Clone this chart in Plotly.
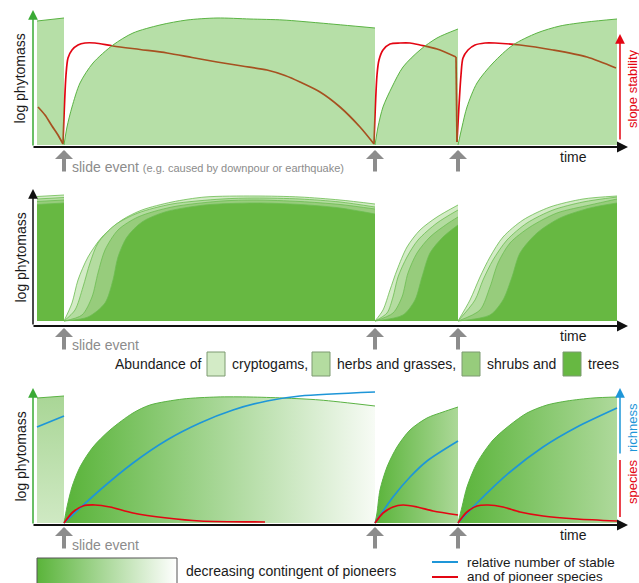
import plotly.graph_objects as go

W, H = 639, 583
FONT = "Liberation Sans, Arial, sans-serif"

# ---------------- data ----------------
slide_times = [64, 375, 458]

# Panel 1: log phytomass (green) and slope stability (red)
p1_green_t = [
    [37, 50, 64],
    [64, 67, 72, 80, 93, 113, 133, 160, 187, 217, 250, 283, 320, 375],
    [375, 378, 383, 392, 403, 420, 437, 458],
    [458, 462, 467, 477, 493, 513, 537, 560, 587, 617],
]
p1_green_v = [
    [124, 125.5, 127],
    [0, 18, 38, 62, 82, 100, 112, 120, 125, 127, 126, 125, 122, 117],
    [0, 18, 38, 58, 78, 95, 107, 116],
    [0, 18, 38, 62, 82, 100, 112, 119, 123, 126],
]
p1_stab_t = [
    [38, 45, 52, 58, 63],
    [63, 66, 68, 72, 78, 85, 95, 113, 140, 167, 192, 217, 242, 267, 285, 300, 320, 340, 360, 374],
    [374, 377, 379, 383, 390, 400, 410, 420, 437, 456],
    [456, 457],
    [457, 461, 463, 468, 475, 485, 495, 520, 553, 587, 616],
]
p1_stab_v = [
    [38, 30, 19, 10, 1],
    [1, 70, 87, 95, 100, 102, 102, 99, 95.5, 92, 87.5, 83, 79, 75, 69.5, 63, 53, 38, 18, 1],
    [1, 70, 85, 95, 101, 102, 102, 100, 96, 88],
    [88, 3],
    [3, 70, 87, 95, 100, 102, 102, 100, 95, 88, 77],
]

# Panel 2: stacked abundance of life forms (tops of each layer)
p2_t = [
    [37, 64],
    [64, 72, 78, 88, 102, 122, 142, 172, 205, 255, 300, 340, 375],
    [375, 383, 390, 397, 407, 420, 437, 458],
    [458, 470, 480, 490, 503, 523, 550, 583, 617],
]
p2_crypto = [
    [124.5, 126],
    [0, 18, 41, 64, 84, 101, 111, 119, 124, 125, 124, 121, 117],
    [0, 11, 31, 51, 74, 91, 104, 116],
    [0, 21, 44, 64, 84, 101, 114, 122, 125],
]
p2_herbs_t = [
    [37, 64],
    [64, 75, 83, 90, 98, 115, 138, 172, 222, 255, 300, 340, 375],
    [375, 387, 393, 398, 407, 418, 437, 458],
    [458, 475, 483, 493, 507, 527, 553, 583, 617],
]
p2_herbs = [
    [122, 123.5],
    [0, 11, 34, 58, 78, 96, 108, 117, 122, 123, 122, 119, 114],
    [0, 8, 24, 44, 64, 81, 98, 111],
    [0, 21, 41, 61, 81, 98, 111, 119, 124],
]
p2_shrubs_t = [
    [37, 64],
    [64, 82, 92, 98, 105, 118, 138, 172, 222, 255, 300, 340, 375],
    [375, 393, 402, 408, 417, 430, 447, 458],
    [458, 480, 490, 498, 510, 530, 557, 590, 617],
]
p2_shrubs = [
    [119.5, 121],
    [0, 6, 24, 48, 71, 91, 104, 114, 120, 121, 119.5, 116.5, 112],
    [0, 8, 24, 48, 68, 84, 97, 104],
    [0, 11, 34, 58, 78, 94, 108, 116, 122],
]
p2_trees_t = [
    [37, 64],
    [64, 88, 105, 113, 118, 127, 142, 165, 205, 255, 300, 340, 375],
    [375, 403, 415, 422, 430, 443, 458],
    [458, 490, 503, 512, 520, 537, 560, 590, 617],
]
p2_trees = [
    [116.5, 118],
    [0, 4, 18, 41, 64, 84, 99, 109, 116, 118, 116.5, 113, 107],
    [0, 6, 21, 44, 68, 84, 96],
    [0, 6, 21, 44, 68, 88, 103, 113, 118],
]

# Panel 3: phytomass with pioneers, species richness
p3_green_t = [
    [37, 64],
    [64, 67, 72, 80, 93, 110, 133, 150, 183, 217, 250, 283, 320, 375],
    [375, 377, 380, 387, 397, 410, 427, 443, 458],
    [458, 462, 467, 477, 493, 510, 527, 547, 567, 593, 617],
]
p3_green_v = [
    [125, 127],
    [0, 16, 36, 56, 76, 93, 110, 118, 124, 126, 126, 125, 123, 117],
    [0, 10, 33, 56, 76, 93, 105, 111, 116],
    [0, 16, 36, 60, 83, 98, 110, 118, 122, 125, 126],
]
p3_stable_t = [
    [37, 64],
    [64, 100, 133, 167, 200, 233, 267, 300, 375],
    [375, 393, 410, 427, 458],
    [458, 477, 510, 543, 577, 617],
]
p3_stable_v = [
    [96, 107],
    [0, 33, 60, 83, 100, 113, 122, 127, 131],
    [0, 26, 46, 62, 82],
    [0, 20, 51, 76, 96, 115],
]
p3_pioneer_t = [
    [64, 73, 83, 95, 110, 133, 167, 200, 265],
    [375, 383, 393, 403, 417, 433, 458],
    [458, 467, 477, 488, 503, 520, 543, 577, 617],
]
p3_pioneer_v = [
    [0, 11, 17, 18, 16, 10, 5, 2, 1],
    [0, 10, 16, 18, 16, 12, 8],
    [0, 11, 17, 18, 16, 11, 7, 4, 2],
]

legend_layers = ["cryptogams,", "herbs and grasses,", "shrubs and", "trees"]

# ---------------- styles ----------------
GREEN_LINE = "#5bb344"
AX_GREEN = "#3aaa35"
RED = "#e30613"
BLUE = "#1e96d8"
GREY = "#8c8c8c"
LAYER_COLORS = ["#d3ebc6", "#b4dca0", "#97cc7c", "#67b842"]


def X(px):
    return px / W


def Y(py):
    return 1 - py / H


fig = go.Figure()

# ---- panel 1 ----
for t, v in zip(p1_stab_t, p1_stab_v):
    fig.add_trace(go.Scatter(x=t, y=v, mode="lines", xaxis="x", yaxis="y",
                             line=dict(color=RED, width=1.7, shape="spline", smoothing=0.8),
                             hoverinfo="skip"))
for i, (t, v) in enumerate(zip(p1_green_t, p1_green_v)):
    fig.add_trace(go.Scatter(x=t, y=v, mode="lines", xaxis="x", yaxis="y", fill="tozeroy",
                             fillcolor="rgba(86,180,52,0.43)",
                             line=dict(color=GREEN_LINE, width=1,
                                       shape="linear" if i == 0 else "spline", smoothing=0.8),
                             hoverinfo="skip"))

# ---- panel 2 ----
for ts, vs, col in [(p2_t, p2_crypto, LAYER_COLORS[0]),
                    (p2_herbs_t, p2_herbs, LAYER_COLORS[1]),
                    (p2_shrubs_t, p2_shrubs, LAYER_COLORS[2]),
                    (p2_trees_t, p2_trees, LAYER_COLORS[3])]:
    for i, (t, v) in enumerate(zip(ts, vs)):
        fig.add_trace(go.Scatter(x=t, y=v, mode="lines", xaxis="x2", yaxis="y2", fill="tozeroy",
                                 fillcolor=col,
                                 line=dict(color="#6cbd52", width=0.8,
                                           shape="linear" if i == 0 else "spline", smoothing=0.8),
                                 hoverinfo="skip"))

# ---- panel 3 ----
grads = [
    dict(type="vertical", colorscale=[[0, "#cfe9c3"], [1, "#a9d696"]], start=0, stop=127),
    dict(type="horizontal", colorscale=[[0, "#58b338"], [1, "#f7fbf5"]], start=64, stop=375),
    dict(type="horizontal", colorscale=[[0, "#5ab43a"], [1, "#acd898"]], start=375, stop=458),
    dict(type="horizontal", colorscale=[[0, "#5ab43a"], [1, "#aed99b"]], start=458, stop=617),
]
for i, (t, v) in enumerate(zip(p3_green_t, p3_green_v)):
    fig.add_trace(go.Scatter(x=t, y=v, mode="lines", xaxis="x3", yaxis="y3", fill="tozeroy",
                             fillgradient=grads[i],
                             line=dict(color=GREEN_LINE, width=1,
                                       shape="linear" if i == 0 else "spline", smoothing=0.8),
                             hoverinfo="skip"))
for t, v in zip(p3_stable_t, p3_stable_v):
    fig.add_trace(go.Scatter(x=t, y=v, mode="lines", xaxis="x3", yaxis="y3",
                             line=dict(color=BLUE, width=1.7, shape="spline", smoothing=0.8),
                             hoverinfo="skip"))
for t, v in zip(p3_pioneer_t, p3_pioneer_v):
    fig.add_trace(go.Scatter(x=t, y=v, mode="lines", xaxis="x3", yaxis="y3",
                             line=dict(color=RED, width=1.7, shape="spline", smoothing=0.8),
                             hoverinfo="skip"))

# gradient legend swatch (overlay axis in pixel units)
fig.add_trace(go.Scatter(x=[37, 177, 177, 37, 37], y=[558, 558, 590, 590, 558], mode="lines",
                         xaxis="x4", yaxis="y4", fill="toself",
                         fillgradient=dict(type="horizontal", colorscale=[[0, "#5ab43a"], [1, "#ffffff"]],
                                           start=37, stop=177),
                         line=dict(color="#555555", width=1), hoverinfo="skip"))

# ---------------- annotations ----------------
ann = []


def arrow(hx, hy, tx, ty, color, width, head=2, size=1.0):
    ann.append(dict(xref="paper", yref="paper", x=X(hx), y=Y(hy), ax=tx - hx, ay=ty - hy,
                    axref="pixel", ayref="pixel", text="", showarrow=True,
                    arrowhead=head, arrowsize=size, arrowwidth=width, arrowcolor=color,
                    standoff=0, startstandoff=0))


def label(px, py, text, size=14, color="#1a1a1a", angle=0, xanchor="center"):
    ann.append(dict(xref="paper", yref="paper", x=X(px), y=Y(py), text=text, showarrow=False,
                    textangle=angle, xanchor=xanchor, yanchor="middle",
                    font=dict(family=FONT, size=size, color=color)))


panel_axis = [147, 326, 525]
panel_top = [10, 189, 388]
yaxis_cols = [AX_GREEN, "#111111", AX_GREEN]
arrow_tops = [150, 328, 527]
slide_text_y = [167, 345, 545]

for k in range(3):
    arrow(33, panel_top[k], 33, panel_axis[k], yaxis_cols[k], 1.5, head=2, size=1.3)
    arrow(628, panel_axis[k], 32, panel_axis[k], "#111111", 2, head=2, size=1.1)
    for s in slide_times:
        arrow(s, arrow_tops[k], s, arrow_tops[k] + 23, GREY, 4, head=1, size=0.75)
    label(20, (panel_top[k] + panel_axis[k]) / 2, "log phytomass", 14, angle=-90)
    label(573, panel_axis[k] + 10, "time", 14)

label(70, slide_text_y[0],
      "slide event <span style='font-size:11px'>(e.g. caused by downpour or earthquake)</span>",
      14, GREY, xanchor="left")
label(70, slide_text_y[1], "slide event", 14, GREY, xanchor="left")
label(70, slide_text_y[2], "slide event", 14, GREY, xanchor="left")

# right axes
arrow(620, 34, 620, 141, RED, 1.5, head=2, size=1.3)
label(632, 89, "slope stability", 13, RED, angle=-90)
arrow(620, 388, 620, 455, BLUE, 1.5, head=2, size=1.3)
label(632, 428, "richness", 13, BLUE, angle=-90)
label(632, 482, "species", 13, RED, angle=-90)

# panel 2 legend
label(113, 364, "Abundance of", 14, xanchor="left")
box_x = [207, 312, 462, 563]
text_x = [230, 335, 485, 586]
shapes = []
for bx, tx, col, name in zip(box_x, text_x, LAYER_COLORS, legend_layers):
    shapes.append(dict(type="rect", xref="paper", yref="paper", x0=X(bx), x1=X(bx + 18),
                       y0=Y(376), y1=Y(352), fillcolor=col, line=dict(color="#7d9a70", width=1)))
    label(tx, 364, name, 14, xanchor="left")

# panel 3 legend
label(184, 571, "decreasing contingent of pioneers", 14, xanchor="left")
shapes.append(dict(type="line", xref="paper", yref="paper", x0=X(432), x1=X(458), y0=Y(562), y1=Y(562),
                   line=dict(color=BLUE, width=2)))
shapes.append(dict(type="line", xref="paper", yref="paper", x0=X(432), x1=X(458), y0=Y(577), y1=Y(577),
                   line=dict(color=RED, width=2)))
shapes.append(dict(type="line", xref="paper", yref="paper", x0=X(620), x1=X(620), y0=Y(460), y1=Y(517),
                   line=dict(color=RED, width=1.5)))
label(465, 562, "relative number of stable", 13.5, xanchor="left")
label(465, 576.5, "and of pioneer species", 13.5, xanchor="left")

hid = dict(visible=False, showgrid=False, zeroline=False, fixedrange=True)
fig.update_layout(
    width=W, height=H, margin=dict(l=0, r=0, t=0, b=0),
    paper_bgcolor="white", plot_bgcolor="rgba(0,0,0,0)", showlegend=False,
    font=dict(family=FONT),
    xaxis=dict(domain=[X(33), X(627)], range=[33, 627], anchor="y", **hid),
    yaxis=dict(domain=[Y(146.7), Y(10)], range=[-1.7, 135], anchor="x", **hid),
    xaxis2=dict(domain=[X(33), X(627)], range=[33, 627], anchor="y2", **hid),
    yaxis2=dict(domain=[Y(325.5), Y(190)], range=[-4.5, 131], anchor="x2", **hid),
    xaxis3=dict(domain=[X(33), X(627)], range=[33, 627], anchor="y3", **hid),
    yaxis3=dict(domain=[Y(525), Y(388)], range=[-2, 135], anchor="x3", **hid),
    xaxis4=dict(domain=[0, 1], range=[0, W], anchor="y4", **hid),
    yaxis4=dict(domain=[0, 1], range=[H, 0], anchor="x4", **hid),
    annotations=ann, shapes=shapes,
)

fig.write_html("out.html", config={"displayModeBar": False},
               post_script="document.body.style.margin='0';document.body.style.overflow='hidden';")
